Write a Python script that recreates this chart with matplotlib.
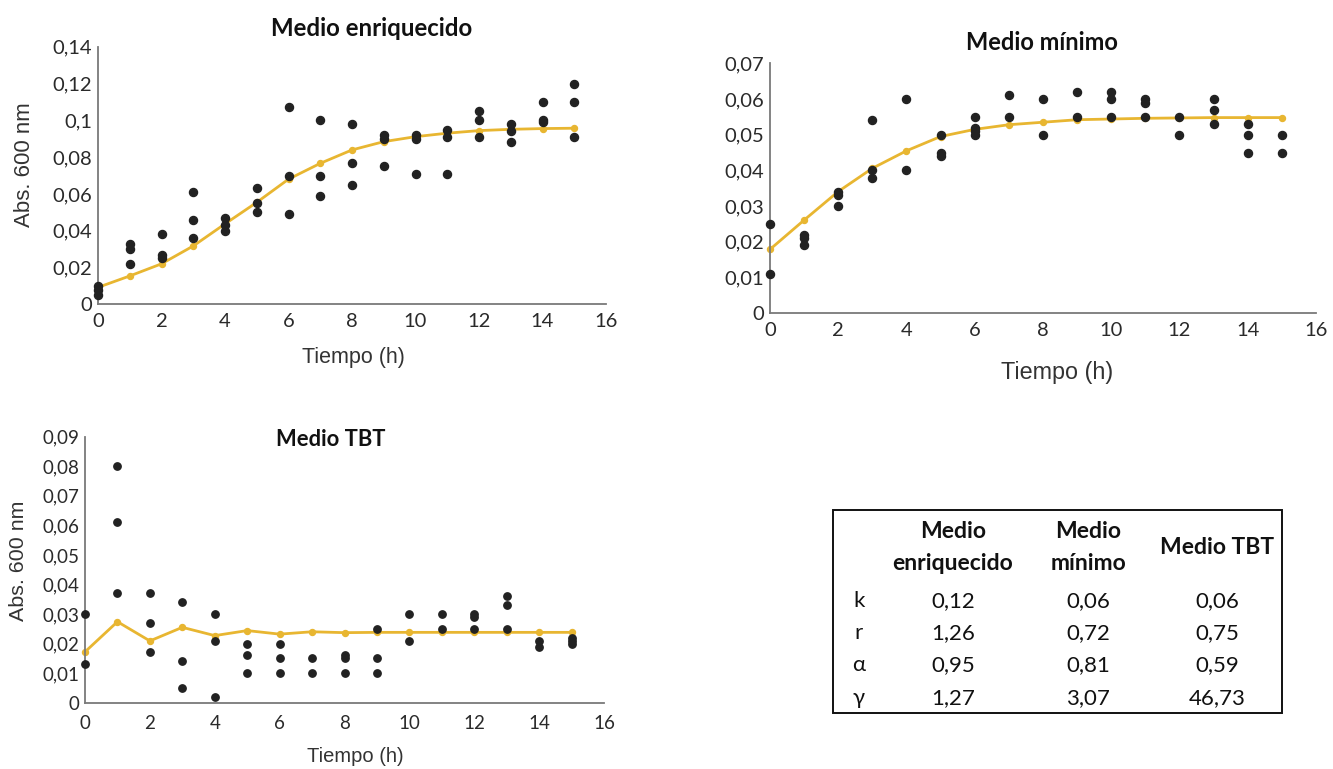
import matplotlib
matplotlib.use("Agg")
import matplotlib.pyplot as plt
from matplotlib.patches import Rectangle

# ---------------- data ----------------
hours = list(range(16))

# Medio enriquecido: replicate observations per hour
enr_obs = [
    [0.010, 0.008, 0.005], [0.033, 0.030, 0.022], [0.038, 0.027, 0.025], [0.061, 0.046, 0.036],
    [0.047, 0.043, 0.040], [0.063, 0.055, 0.050], [0.107, 0.070, 0.049], [0.100, 0.070, 0.059],
    [0.098, 0.077, 0.065], [0.092, 0.090, 0.075], [0.092, 0.090, 0.071], [0.095, 0.091, 0.071],
    [0.105, 0.100, 0.091], [0.098, 0.094, 0.088], [0.110, 0.100, 0.099], [0.120, 0.110, 0.091],
]
enr_fit = [0.0092, 0.0154, 0.0220, 0.0317, 0.0437, 0.0554, 0.0680, 0.0766,
           0.0839, 0.0884, 0.0911, 0.0930, 0.0944, 0.0951, 0.0955, 0.0957]

# Medio mínimo
min_obs = [
    [0.025, 0.011], [0.022, 0.021, 0.019], [0.034, 0.033, 0.030], [0.054, 0.040, 0.038],
    [0.060, 0.040], [0.050, 0.045, 0.044], [0.055, 0.052, 0.051, 0.050], [0.061, 0.055],
    [0.060, 0.050], [0.062, 0.055], [0.062, 0.060, 0.055], [0.060, 0.059, 0.055],
    [0.055, 0.050], [0.060, 0.057, 0.053], [0.053, 0.050, 0.045], [0.050, 0.045],
]
min_fit = [0.0179, 0.0261, 0.0341, 0.0406, 0.0455, 0.0495, 0.0515, 0.0528,
           0.0535, 0.0542, 0.0544, 0.0546, 0.0547, 0.0548, 0.0548, 0.0548]

# Medio TBT
tbt_obs = [
    [0.030, 0.013], [0.080, 0.061, 0.037], [0.037, 0.027, 0.017], [0.034, 0.014, 0.005],
    [0.030, 0.021, 0.002], [0.020, 0.016, 0.010], [0.020, 0.015, 0.010], [0.015, 0.010],
    [0.016, 0.015, 0.010], [0.025, 0.015, 0.010], [0.030, 0.021], [0.030, 0.025],
    [0.030, 0.029, 0.025], [0.036, 0.033, 0.025], [0.021, 0.019], [0.022, 0.021, 0.020],
]
tbt_fit = [0.0172, 0.0274, 0.0209, 0.0255, 0.0227, 0.0244, 0.0232, 0.0240,
           0.0237, 0.0238, 0.0238, 0.0238, 0.0238, 0.0238, 0.0238, 0.0238]

x_ticks = [0, 2, 4, 6, 8, 10, 12, 14, 16]
enr_yticks = [0, 0.02, 0.04, 0.06, 0.08, 0.10, 0.12, 0.14]
enr_ylabels = ["0", "0,02", "0,04", "0,06", "0,08", "0,1", "0,12", "0,14"]
min_yticks = [0, 0.01, 0.02, 0.03, 0.04, 0.05, 0.06, 0.07]
min_ylabels = ["0", "0,01", "0,02", "0,03", "0,04", "0,05", "0,06", "0,07"]
tbt_yticks = [0, 0.01, 0.02, 0.03, 0.04, 0.05, 0.06, 0.07, 0.08, 0.09]
tbt_ylabels = ["0", "0,01", "0,02", "0,03", "0,04", "0,05", "0,06", "0,07", "0,08", "0,09"]

table_cols = [["Medio", "enriquecido"], ["Medio", "mínimo"], ["Medio TBT"]]
table_rows = ["k", "r", "α", "γ"]
table_vals = [
    ["0,12", "0,06", "0,06"],
    ["1,26", "0,72", "0,75"],
    ["0,95", "0,81", "0,59"],
    ["1,27", "3,07", "46,73"],
]

# ---------------- style ----------------
YELLOW = "#E8B631"
DOT = "#222222"
SPINE = "#7a7a7a"
TICKFONT = ["Lato", "DejaVu Sans"]
LABELFONT = ["Liberation Sans", "DejaVu Sans"]

W, H = 1333, 769
fig = plt.figure(figsize=(W / 100, H / 100), dpi=100)


def make_panel(rect, obs, fit, yticks, ylabels, ymax, tick_fs, xlab_fs, xpad, ms):
    ax = fig.add_axes(rect)
    ax.plot(hours, fit, color=YELLOW, lw=2.0, marker="o", ms=4.3, zorder=2,
            clip_on=False)
    xs, ys = [], []
    for h, vals in zip(hours, obs):
        for v in vals:
            xs.append(h)
            ys.append(v)
    ax.plot(xs, ys, linestyle="none", marker="o", ms=ms, color=DOT, zorder=3,
            clip_on=False)
    ax.set_xlim(0, 16)
    ax.set_ylim(0, ymax)
    for s in ["top", "right"]:
        ax.spines[s].set_visible(False)
    for s in ["left", "bottom"]:
        ax.spines[s].set_color(SPINE)
        ax.spines[s].set_linewidth(1.3)
    ax.set_xticks(x_ticks)
    ax.set_xticklabels([str(t) for t in x_ticks], family=TICKFONT,
                       fontsize=tick_fs, color="#2a2a2a")
    ax.set_yticks(yticks)
    ax.set_yticklabels(ylabels, family=TICKFONT, fontsize=tick_fs, color="#2a2a2a")
    ax.tick_params(axis="both", length=0)
    ax.tick_params(axis="x", pad=xpad)
    ax.tick_params(axis="y", pad=4)
    ax.set_xlabel("Tiempo (h)", family=LABELFONT, fontsize=xlab_fs,
                  color="#333333")
    return ax


def px_coords(ax, rect_px, x_px, y_px):
    # convert a pixel position into axes coordinates of a panel
    l, t, w, h = rect_px
    return (x_px - l) / w, (t + h - y_px) / h


# panel rectangles in pixels: left, top, width, height
r1 = (98, 46.7, 508, 257.6)
r2 = (770, 63.3, 546, 250)
r3 = (85, 436.7, 519, 266)


def to_frac(r):
    l, t, w, h = r
    return [l / W, 1 - (t + h) / H, w / W, h / H]


ax1 = make_panel(to_frac(r1), enr_obs, enr_fit, enr_yticks, enr_ylabels, 0.14,
                 14.5, 15.5, 6, 5.8)
ax2 = make_panel(to_frac(r2), min_obs, min_fit, min_yticks, min_ylabels, 0.07,
                 14.5, 16.8, 6, 5.8)
ax3 = make_panel(to_frac(r3), tbt_obs, tbt_fit, tbt_yticks, tbt_ylabels, 0.09,
                 13.5, 14.5, 9, 5.3)

# axis labels
ax1.xaxis.set_label_coords(*px_coords(ax1, r1, 353, 358))
ax1.xaxis.label.set_va("center")
ax2.xaxis.set_label_coords(*px_coords(ax2, r2, 1057, 372))
ax2.xaxis.label.set_va("center")
ax3.xaxis.set_label_coords(*px_coords(ax3, r3, 355, 757))
ax3.xaxis.label.set_va("center")

ax1.set_ylabel("Abs. 600 nm", family=LABELFONT, fontsize=16, color="#333333")
ax1.yaxis.set_label_coords(*px_coords(ax1, r1, 25, 165))
ax1.yaxis.label.set_va("center")
ax3.set_ylabel("Abs. 600 nm", family=LABELFONT, fontsize=15.4, color="#333333")
ax3.yaxis.set_label_coords(*px_coords(ax3, r3, 19, 561))
ax3.yaxis.label.set_va("center")

# titles
for ax, r, title, fs, (tx, ty) in [
    (ax1, r1, "Medio enriquecido", 17.3, (372, 28)),
    (ax2, r2, "Medio mínimo", 17.0, (1042, 42)),
    (ax3, r3, "Medio TBT", 15.8, (331, 440)),
]:
    cx, cy = px_coords(ax, r, tx, ty)
    ax.text(cx, cy, title, transform=ax.transAxes, ha="center", va="center",
            family=TICKFONT, fontsize=fs, fontweight="bold", color="#111111",
            clip_on=False)

# ---------------- table ----------------
axt = fig.add_axes([0, 0, 1, 1], zorder=-1)
axt.set_xlim(0, W)
axt.set_ylim(H, 0)
axt.axis("off")
axt.add_patch(Rectangle((833, 510), 449, 203, fill=False, ec="#111111", lw=1.4))
col_x = [953, 1088, 1217]
row_x = 859
row_y = [601, 633, 665, 698]
TF = ["Lato", "Open Sans", "DejaVu Sans"]
HF = 16.5
for cx, lines in zip(col_x, table_cols):
    if len(lines) == 2:
        axt.text(cx, 532, lines[0], ha="center", va="center", family=TF,
                 fontsize=HF, fontweight="bold", color="#111111")
        axt.text(cx, 563, lines[1], ha="center", va="center", family=TF,
                 fontsize=HF, fontweight="bold", color="#111111")
    else:
        axt.text(cx, 548, lines[0], ha="center", va="center", family=TF,
                 fontsize=HF, fontweight="bold", color="#111111")
for ry, lab, vals in zip(row_y, table_rows, table_vals):
    axt.text(row_x, ry, lab, ha="center", va="center", family=TF,
             fontsize=16, color="#111111")
    for cx, v in zip(col_x, vals):
        axt.text(cx, ry, v, ha="center", va="center", family=TF,
                 fontsize=16, color="#111111")

fig.savefig("out.png", dpi=100)
